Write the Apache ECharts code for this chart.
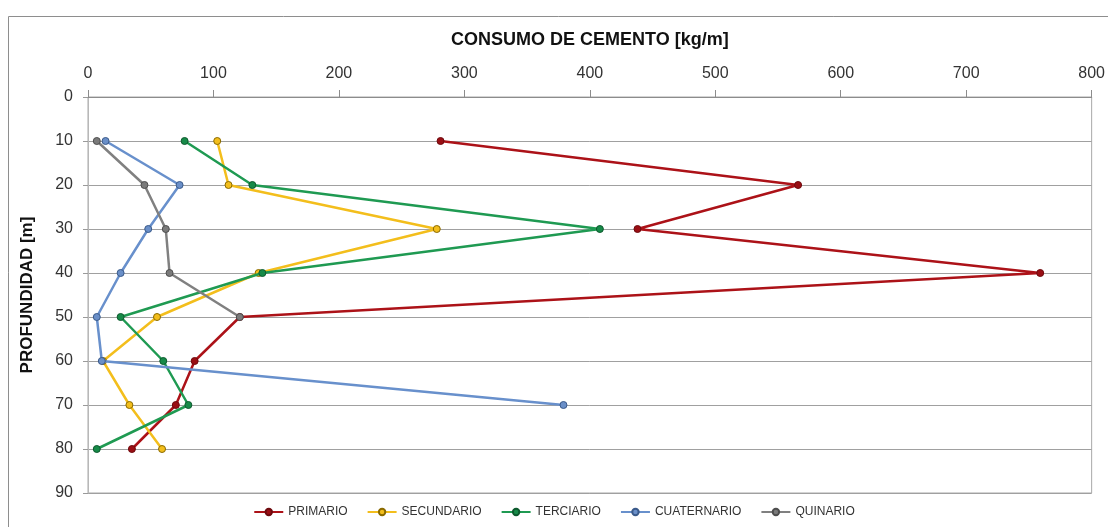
<!DOCTYPE html>
<html>
<head>
<meta charset="utf-8">
<script src="https://cdn.jsdelivr.net/npm/echarts@6/dist/echarts.min.js"></script>
<style>
html,body{margin:0;padding:0;background:#fff;}
#chart{width:1108px;height:527px;}
</style>
</head>
<body>
<div id="chart"></div>
<script>
const depths = [10, 20, 30, 40, 50, 60, 70, 80];
const seriesNames = ['PRIMARIO', 'SECUNDARIO', 'TERCIARIO', 'CUATERNARIO', 'QUINARIO'];
const primario    = [281, 566, 438, 759, 121, 85, 70, 35];
const secundario  = [103, 112, 278, 136, 55, 12, 33, 59];
const terciario   = [77, 131, 408, 139, 26, 60, 80, 7];
const cuaternario = [14, 73, 48, 26, 7, 11, 379];
const quinario    = [7, 45, 62, 65, 121];
const xTitle = 'CONSUMO DE CEMENTO [kg/m]';
const yTitle = 'PROFUNDIDAD [m]';

const values = [primario, secundario, terciario, cuaternario, quinario];
const lineColors = ['#AC1218', '#F3BE1C', '#1F9A52', '#6890CC', '#808080'];
const markerFill = ['#9A0E14', '#F3BE1C', '#178A48', '#6A8FC8', '#7A7A7A'];
const markerBorder = ['#6E0A0E', '#8A6A00', '#0D5A2E', '#3A5A8A', '#4E4E4E'];

const FONT = 'Liberation Sans, Arial, sans-serif';

const chart = echarts.init(document.getElementById('chart'));
chart.setOption({
  animation: false,
  backgroundColor: '#fff',
  graphic: [{
    type: 'rect',
    shape: { x: 8.5, y: 16.5, width: 1120, height: 540 },
    style: { fill: 'none', stroke: '#8e8e8e', lineWidth: 1 },
    silent: true, z: -1
  }],
  grid: {
    left: 88, right: 7, top: 97, bottom: 34,
    show: true, borderColor: '#a8a8a8', borderWidth: 1
  },
  legend: {
    bottom: 4, left: 'center',
    itemWidth: 29, itemHeight: 8, itemGap: 19,
    textStyle: { fontFamily: FONT, fontSize: 12, color: '#333' },
    data: seriesNames
  },
  xAxis: {
    type: 'value', position: 'top', min: 0, max: 800, interval: 100,
    name: xTitle, nameLocation: 'middle', nameGap: 48,
    nameTextStyle: { fontFamily: FONT, fontSize: 18, fontWeight: 'bold', color: '#111' },
    axisLine: { show: true, lineStyle: { color: '#8c8c8c', width: 1 } },
    axisTick: { show: true, inside: false, length: 7, lineStyle: { color: '#8c8c8c' } },
    axisLabel: { fontFamily: FONT, fontSize: 16, color: '#333', margin: 15 },
    splitLine: { show: false }
  },
  yAxis: {
    type: 'value', inverse: true, min: 0, max: 90, interval: 10,
    name: yTitle, nameLocation: 'middle', nameGap: 52, nameRotate: 90,
    nameTextStyle: { fontFamily: FONT, fontSize: 17, fontWeight: 'bold', color: '#111' },
    axisLine: { show: true, lineStyle: { color: '#b8b8b8', width: 1 } },
    axisTick: { show: true, length: 5, lineStyle: { color: '#9a9a9a' } },
    axisLabel: { fontFamily: FONT, fontSize: 16, color: '#333', margin: 15 },
    splitLine: { show: true, lineStyle: { color: '#a0a0a0', width: 1 } }
  },
  series: seriesNames.map((name, i) => ({
    name: name,
    type: 'line',
    data: values[i].map((v, j) => [v, depths[j]]),
    symbol: 'circle',
    symbolSize: 7,
    lineStyle: { color: lineColors[i], width: 2.5 },
    itemStyle: { color: markerFill[i], borderColor: markerBorder[i], borderWidth: 1 },
    z: 2 + i
  }))
});
</script>
</body>
</html>
